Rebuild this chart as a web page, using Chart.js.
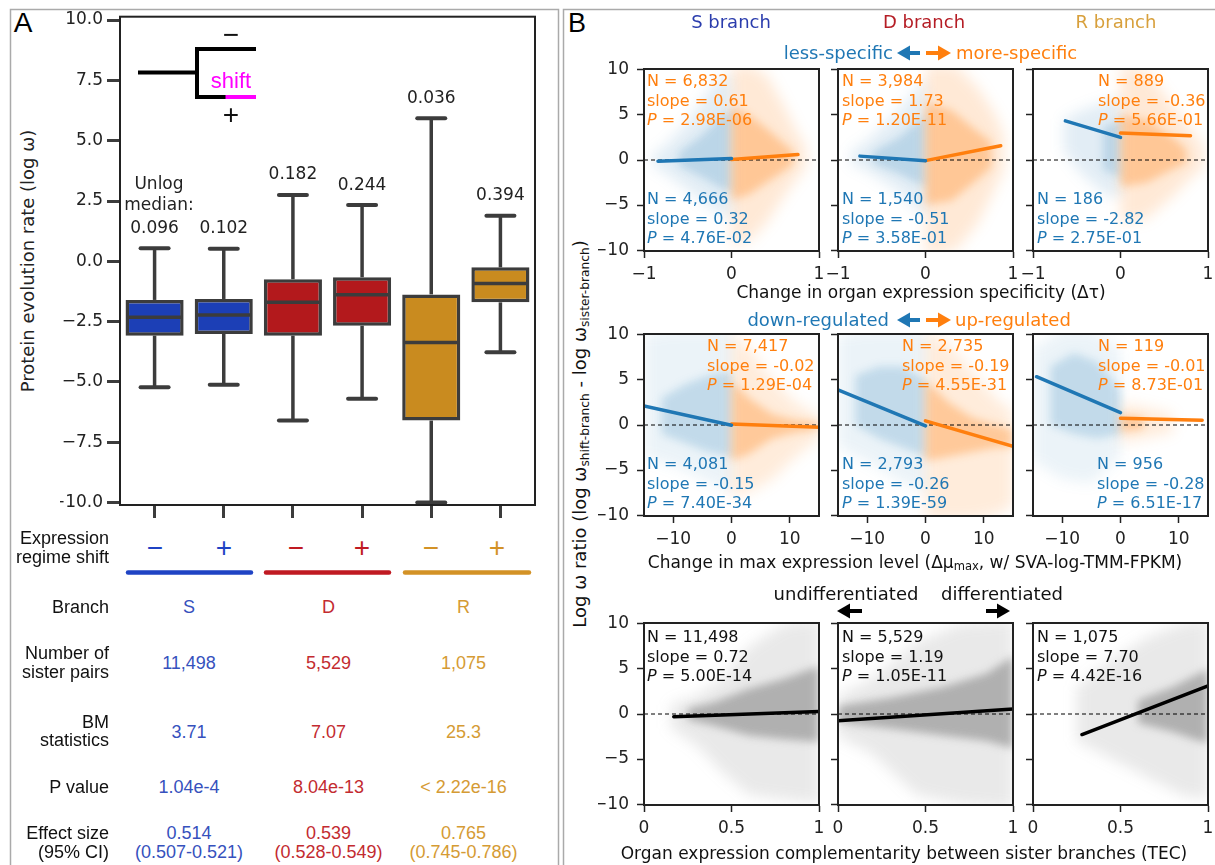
<!DOCTYPE html>
<html>
<head>
<meta charset="utf-8">
<script src="https://cdn.jsdelivr.net/npm/chart.js@4.4.1/dist/chart.umd.min.js"></script>
<style>
  html, body { margin: 0; padding: 0; background: #fff; }
  #stage { position: relative; width: 1215px; height: 865px; overflow: hidden; font-family: 'DejaVu Sans', sans-serif; color: #111; }
  #stage canvas { position: absolute; }
  .t { position: absolute; white-space: nowrap; line-height: 1; }
  .t sub { font-size: 0.68em; vertical-align: -0.25em; line-height: 0; }
  #stage svg { position: absolute; left: 0; top: 0; }
</style>
</head>
<body>
<div id="stage"></div>
<script>
// ---------- Panel A: box plot + table ----------
const groups = ['S−', 'S+', 'D−', 'D+', 'R−', 'R+'];
const whiskerLow = [-5.22, -5.12, -6.6, -5.7, -10.0, -3.77];
const quartile1 = [-3.08, -3.01, -3.08, -2.67, -6.6, -1.7];
const medians = [-2.32, -2.22, -1.7, -1.39, -3.36, -0.92];
const quartile3 = [-1.6, -1.56, -0.74, -0.66, -1.37, -0.25];
const whiskerHigh = [0.54, 0.52, 2.75, 2.33, 5.93, 1.89];
const unlogMedians = ['0.096', '0.102', '0.182', '0.244', '0.036', '0.394'];
const omegaTicks = [-10, -7.5, -5, -2.5, 0, 2.5, 5, 7.5, 10];

const branches = ['S', 'D', 'R'];
const sisterPairs = ['11,498', '5,529', '1,075'];
const bmStatistics = ['3.71', '7.07', '25.3'];
const pValues = ['1.04e-4', '8.04e-13', '< 2.22e-16'];
const effectSizes = ['0.514', '0.539', '0.765'];
const effectCIs = ['(0.507-0.521)', '(0.528-0.549)', '(0.745-0.786)'];

// ---------- Panel B: scatter grid ----------
const branchTitles = ['S branch', 'D branch', 'R branch'];
const tauTicks = [-1, 0, 1];
const muTicks = [-10, 0, 10];
const tecTicks = [0, 0.5, 1];
const ratioTicks = [-10, -5, 0, 5, 10];

// stats: [N, slope, P]
const tauLessStats = [['4,666', '0.32', '4.76E-02'], ['1,540', '-0.51', '3.58E-01'], ['186', '-2.82', '2.75E-01']];
const tauMoreStats = [['6,832', '0.61', '2.98E-06'], ['3,984', '1.73', '1.20E-11'], ['889', '-0.36', '5.66E-01']];
const muDownStats = [['4,081', '-0.15', '7.40E-34'], ['2,793', '-0.26', '1.39E-59'], ['956', '-0.28', '6.51E-17']];
const muUpStats = [['7,417', '-0.02', '1.29E-04'], ['2,735', '-0.19', '4.55E-31'], ['119', '-0.01', '8.73E-01']];
const tecStats = [['11,498', '0.72', '5.00E-14'], ['5,529', '1.19', '1.05E-11'], ['1,075', '7.70', '4.42E-16']];

// regression segments: [x1, y1, x2, y2]
const tauLessFit = [[-0.84, -0.13, 0, 0.17], [-0.75, 0.43, 0, -0.07], [-0.63, 4.34, 0, 2.51]];
const tauMoreFit = [[0, 0.05, 0.76, 0.6], [0, -0.07, 0.86, 1.58], [0, 3.0, 0.8, 2.7]];
const muDownFit = [[-15, 2.1, 0, -0.02], [-15, 3.9, 0, -0.1], [-14.4, 5.36, 0, 1.38]];
const muUpFit = [[0, 0.1, 15, -0.25], [0, 0.46, 15, -2.38], [0, 0.75, 14, 0.53]];
const tecFit = [[0.17, -0.3, 1, 0.29], [0, -0.74, 1, 0.55], [0.28, -2.28, 1, 3.12]];

// point clouds read as envelopes: [x, low, high] (outer spread, dense core)
const tauLessCloud = [
  { outer: [[-0.9, -0.6, 0.6], [-0.75, -1.5, 1.6], [-0.5, -3.3, 4.2], [-0.2, -5.5, 8.5], [0, -6.6, 9.6]],
    inner: [[-0.6, -0.6, 0.8], [-0.35, -1.8, 2.6], [-0.1, -3.2, 5], [0, -3.5, 5.5]] },
  { outer: [[-0.85, -0.5, 1], [-0.7, -1, 1.8], [-0.3, -3.5, 5.5], [-0.05, -6, 8.5], [0, -6.5, 9]],
    inner: [[-0.6, -0.4, 0.9], [-0.3, -1.5, 2.5], [0, -3, 5]] },
  { outer: [[-0.65, 1, 4.5], [-0.45, -1.5, 5.5], [-0.15, -4, 6.5], [0, -4, 7]],
    inner: [[-0.2, -1, 3.5], [0, -2, 4.5]] }
];
const tauMoreCloud = [
  { outer: [[0, -9.5, 10.5], [0.2, -9, 10.5], [0.4, -7, 9.5], [0.6, -4, 6], [0.75, -2, 3], [0.85, -0.8, 1.5]],
    inner: [[0, -4.5, 6], [0.2, -3.8, 5], [0.4, -2.5, 3.5], [0.6, -1.2, 1.8], [0.7, -0.5, 1]] },
  { outer: [[0, -10.5, 10.5], [0.35, -10, 10.5], [0.6, -7, 8], [0.8, -3, 5], [0.9, -1, 2.5]],
    inner: [[0, -5, 6.5], [0.3, -4.5, 5.5], [0.55, -2.5, 3.5], [0.75, -0.8, 2]] },
  { outer: [[0, -7, 10.5], [0.3, -6.5, 10], [0.6, -4, 6], [0.8, -2, 3.5], [0.95, -0.8, 1.5]],
    inner: [[0, -3, 5], [0.3, -2.5, 4.5], [0.6, -1, 2.5], [0.75, -0.3, 1.2]] }
];
const muDownCloud = [
  { outer: [[-15, -3.5, 10], [-10, -4.5, 10.5], [-5, -6, 10.5], [0, -7.5, 10.5]],
    inner: [[-12, -1, 3], [-8, -2, 4.5], [-4, -3, 5.5], [0, -3.5, 6]] },
  { outer: [[-15, -2.5, 10], [-10, -4, 10.5], [-5, -6, 10.5], [0, -7.5, 10.5]],
    inner: [[-12, 0, 5.5], [-8, -1.5, 6.5], [-4, -2.5, 6.5], [0, -3.5, 5]] },
  { outer: [[-15, -4, 8.5], [-10, -6, 10.5], [-5, -6.5, 10.5], [0, -3.5, 8.5]],
    inner: [[-12, 0, 6.5], [-8, -1, 8], [-4, -1.5, 7], [0, -1, 4]] }
];
const muUpCloud = [
  { outer: [[0, -8, 10.5], [3, -7.5, 8.5], [7, -6, 5], [11, -3.5, 2.5], [15, -1.5, 1]],
    inner: [[0, -4, 5], [3, -3.2, 3], [7, -1.5, 1.2], [11, -0.8, 0.5], [15, -0.5, 0.3]] },
  { outer: [[0, -10.5, 10.5], [4, -10.5, 9], [8, -10.5, 6], [12, -10, 3], [15, -9, 1.5]],
    inner: [[0, -4, 5], [4, -3.5, 2.5], [8, -3, 0.8], [12, -2.5, 0], [15, -2.5, -0.5]] },
  { outer: [[0, -2, 2.5], [4, -1.5, 2], [9, -0.8, 1.2]],
    inner: [[0, -0.8, 1.2], [4, -0.4, 0.8]] }
];
const tecCloud = [
  { outer: [[0.15, -1.5, 1], [0.3, -3.5, 2], [0.45, -6.5, 4], [0.6, -9, 7.5], [0.8, -9.5, 10], [1, -10, 10.5]],
    inner: [[0.25, -0.6, 0.6], [0.4, -1.3, 1.3], [0.6, -2.4, 2.8], [0.8, -2.8, 3.9], [1, -3.1, 5.3]] },
  { outer: [[0, -2.5, 2], [0.2, -4.5, 4], [0.45, -9, 8], [0.7, -10, 10], [1, -10.5, 10.5]],
    inner: [[0, -0.9, 0.9], [0.3, -1.6, 1.8], [0.6, -2.4, 3], [0.85, -3, 4.5], [1, -3.8, 6.4]] },
  { outer: [[0.25, -3, 3], [0.45, -5, 6], [0.65, -7, 8.5], [0.85, -9, 10], [1, -9.5, 10.5]],
    inner: [[0.6, -1, 1.5], [0.8, -2, 3], [0.95, -3, 4.5], [1, -3.2, 5]] }
];

// ---------- styles ----------
const EDGE = '#3c3c3c';
const boxFill = ['#1c3fb6', '#1c3fb6', '#b3191c', '#b3191c', '#c98b1f', '#c98b1f'];
const signColors = ['#1f43c4', '#c01a22', '#d39226'];
const tableColors = ['#3651bd', '#c32b30', '#d59b34'];
const titleColors = ['#2b3dad', '#b51d25', '#d8a03c'];
const BLUE = '#1f77b4', ORANGE = '#ff7f0e';

Chart.defaults.font.family = "'DejaVu Sans', sans-serif";
const stage = document.getElementById('stage');
const minus = v => String(v).replace('-', '−');

function addCanvas(left, top, w, h) {
  const c = document.createElement('canvas');
  c.width = w; c.height = h;
  c.style.left = left + 'px'; c.style.top = top + 'px';
  stage.appendChild(c);
  return c;
}

function text(html, x, y, o = {}) {
  const d = document.createElement('div');
  d.className = 't';
  d.innerHTML = html;
  const s = d.style;
  s.left = x + 'px'; s.top = y + 'px';
  s.fontSize = (o.size || 16) + 'px';
  s.fontFamily = o.font || "'DejaVu Sans'";
  s.color = o.color || '#111';
  const ax = o.align === 'right' ? '-100%' : o.align === 'left' ? '0' : '-50%';
  s.transform = `translate(${ax}, -50%)` + (o.rotate ? ` rotate(${o.rotate}deg)` : '');
  stage.appendChild(d);
}

const framePlugin = {
  id: 'frame',
  afterDraw(chart) {
    const { ctx, chartArea: a } = chart;
    ctx.save();
    ctx.strokeStyle = '#222';
    ctx.lineWidth = 2;
    ctx.strokeRect(a.left, a.top, a.right - a.left, a.bottom - a.top);
    ctx.restore();
  }
};

// ---------- box plot ----------
const boxPlugin = {
  id: 'whiskers',
  beforeDatasetsDraw(chart) {
    const { ctx, scales: { x, y } } = chart;
    ctx.save();
    ctx.strokeStyle = EDGE;
    groups.forEach((g, i) => {
      const cx = x.getPixelForValue(i);
      [[whiskerLow[i], quartile1[i]], [whiskerHigh[i], quartile3[i]]].forEach(([end, edge]) => {
        const ye = y.getPixelForValue(end);
        ctx.lineWidth = 3.5;
        ctx.lineCap = 'butt';
        ctx.beginPath(); ctx.moveTo(cx, ye); ctx.lineTo(cx, y.getPixelForValue(edge)); ctx.stroke();
        ctx.lineCap = 'round';
        ctx.lineWidth = 4;
        ctx.beginPath(); ctx.moveTo(cx - 14, ye); ctx.lineTo(cx + 14, ye); ctx.stroke();
      });
    });
    ctx.restore();
  },
  afterDatasetsDraw(chart) {
    const { ctx, scales: { x, y } } = chart;
    const bars = chart.getDatasetMeta(0).data;
    ctx.save();
    ctx.strokeStyle = EDGE;
    ctx.lineWidth = 3.5;
    bars.forEach((b, i) => {
      const ym = y.getPixelForValue(medians[i]);
      ctx.beginPath(); ctx.moveTo(b.x - b.width / 2 + 1, ym); ctx.lineTo(b.x + b.width / 2 - 1, ym); ctx.stroke();
    });
    ctx.fillStyle = '#222';
    ctx.font = "17px 'DejaVu Sans'";
    ctx.textAlign = 'center';
    ctx.textBaseline = 'middle';
    groups.forEach((g, i) => {
      ctx.fillText(unlogMedians[i], x.getPixelForValue(i), y.getPixelForValue(whiskerHigh[i]) - 20);
    });
    ctx.restore();
  }
};

new Chart(addCanvas(60, -3, 485, 533), {
  type: 'bar',
  data: {
    labels: groups,
    datasets: [{
      data: groups.map((g, i) => [quartile1[i], quartile3[i]]),
      backgroundColor: boxFill,
      borderColor: EDGE,
      borderWidth: 3.5,
      borderSkipped: false,
      barPercentage: 0.84,
      categoryPercentage: 1
    }]
  },
  options: {
    responsive: false,
    animation: false,
    devicePixelRatio: 1,
    layout: { padding: { top: 19.7, right: 10 } },
    plugins: { legend: { display: false }, tooltip: { enabled: false } },
    scales: {
      x: {
        grid: { offset: false, drawOnChartArea: false, tickLength: 13, tickWidth: 3, tickColor: EDGE },
        border: { color: '#222', width: 2 },
        ticks: { display: false },
        afterFit: s => { s.height = 25; }
      },
      y: {
        min: -10.1, max: 10.14,
        afterBuildTicks: ax => { ax.ticks = omegaTicks.map(v => ({ value: v })); },
        grid: { drawOnChartArea: false, tickLength: 13, tickWidth: 3, tickColor: EDGE },
        border: { color: '#222', width: 2 },
        ticks: { color: '#222', font: { size: 17 }, padding: 4, autoSkip: false, callback: v => minus(v.toFixed(1)) },
        afterFit: s => { s.width = 60; }
      }
    }
  },
  plugins: [boxPlugin, framePlugin]
});

// ---------- scatter subplots ----------
function cloudPlugin(layers) {
  return {
    id: 'cloud',
    beforeDatasetsDraw(chart) {
      const { ctx, chartArea: a, scales: { x, y } } = chart;
      ctx.save();
      ctx.beginPath(); ctx.rect(a.left, a.top, a.right - a.left, a.bottom - a.top); ctx.clip();
      layers.forEach(l => {
        ctx.filter = `blur(${l.blur}px)`;
        ctx.fillStyle = l.color;
        ctx.beginPath();
        l.pts.forEach(([px, lo, hi], i) => {
          const X = x.getPixelForValue(px), Y = y.getPixelForValue(hi);
          if (i) ctx.lineTo(X, Y); else ctx.moveTo(X, Y);
        });
        l.pts.slice().reverse().forEach(([px, lo]) => ctx.lineTo(x.getPixelForValue(px), y.getPixelForValue(lo)));
        ctx.closePath();
        ctx.fill();
      });
      ctx.restore();
    }
  };
}

const colLeft = [644, 838, 1033];
const rowTop = [69, 334, 623];
const plotW = 175, plotH = 182;

function scatterPanel(row, col, xr, xTicks, parts) {
  const padL = 46, padT = 22, padR = 24, padB = 40;
  const cv = addCanvas(colLeft[col] - padL, rowTop[row] - padT, plotW + padL + padR, plotH + padT + padB);
  const layers = [];
  parts.forEach(p => {
    const c = p.cloud[col];
    layers.push({ pts: c.outer, color: `rgba(${p.rgb},${p.alpha[0]})`, blur: 7 });
    layers.push({ pts: c.inner, color: `rgba(${p.rgb},${p.alpha[1]})`, blur: 4 });
  });
  const datasets = parts.map(p => {
    const f = p.fit[col];
    return {
      data: [{ x: f[0], y: f[1] }, { x: f[2], y: f[3] }],
      showLine: true, pointRadius: 0, borderColor: p.color, borderWidth: 3.5,
      borderCapStyle: 'round', order: 0
    };
  });
  datasets.push({
    data: [{ x: xr[0], y: 0 }, { x: xr[1], y: 0 }],
    showLine: true, pointRadius: 0, borderColor: '#000', borderWidth: 1,
    borderDash: [4, 3], order: 1
  });
  new Chart(cv, {
    type: 'scatter',
    data: { datasets },
    options: {
      responsive: false,
      animation: false,
      devicePixelRatio: 1,
      layout: { padding: { top: padT, right: padR } },
      plugins: { legend: { display: false }, tooltip: { enabled: false } },
      scales: {
        x: {
          type: 'linear', min: xr[0], max: xr[1],
          afterBuildTicks: ax => { ax.ticks = xTicks.map(v => ({ value: v })); },
          grid: { drawOnChartArea: false, tickLength: 7, tickWidth: 1.5, tickColor: '#222' },
          border: { color: '#222', width: 2 },
          ticks: { color: '#222', font: { size: 17 }, padding: 6, autoSkip: false, maxRotation: 0, callback: v => minus(v) },
          afterFit: s => { s.height = padB; }
        },
        y: {
          min: -10.1, max: 10.1,
          afterBuildTicks: ax => { ax.ticks = ratioTicks.map(v => ({ value: v })); },
          grid: { drawOnChartArea: false, tickLength: 7, tickWidth: 1.5, tickColor: '#222' },
          border: { color: '#222', width: 2 },
          ticks: { display: col === 0, color: '#222', font: { size: 17 }, padding: 8, autoSkip: false, callback: v => minus(v) },
          afterFit: s => { s.width = padL; }
        }
      }
    },
    plugins: [cloudPlugin(layers), framePlugin]
  });
}

function statsBlock(stats, x, y, color) {
  const [n, slope, p] = stats;
  text(`N = ${n}`, x, y, { align: 'left', color });
  text(`slope = ${slope}`, x, y + 19.5, { align: 'left', color });
  text(`<i>P</i> = ${p}`, x, y + 39, { align: 'left', color });
}

const rows = [
  { xr: [-1, 1], ticks: tauTicks, parts: [
    { cloud: tauLessCloud, fit: tauLessFit, stats: tauLessStats, color: BLUE, rgb: '31,119,180', alpha: [0.13, 0.2], pos: [[647, 199], [842, 199], [1037, 199]] },
    { cloud: tauMoreCloud, fit: tauMoreFit, stats: tauMoreStats, color: ORANGE, rgb: '255,127,14', alpha: [0.17, 0.32], pos: [[647, 81], [842, 81], [1098, 81]] }
  ] },
  { xr: [-15, 15], ticks: muTicks, parts: [
    { cloud: muDownCloud, fit: muDownFit, stats: muDownStats, color: BLUE, rgb: '31,119,180', alpha: [0.09, 0.2], pos: [[647, 464], [842, 464], [1097, 464]] },
    { cloud: muUpCloud, fit: muUpFit, stats: muUpStats, color: ORANGE, rgb: '255,127,14', alpha: [0.15, 0.32], pos: [[707, 346], [902, 346], [1098, 346]] }
  ] },
  { xr: [0, 1], ticks: tecTicks, parts: [
    { cloud: tecCloud, fit: tecFit, stats: tecStats, color: '#000', rgb: '120,120,120', alpha: [0.16, 0.5], pos: [[647, 637], [842, 637], [1037, 637]] }
  ] }
];

rows.forEach((r, ri) => {
  for (let c = 0; c < 3; c++) {
    scatterPanel(ri, c, r.xr, r.ticks, r.parts);
    r.parts.forEach(p => statsBlock(p.stats[c], p.pos[c][0], p.pos[c][1], p.color === '#000' ? '#111' : p.color));
  }
});

// ---------- panel A text ----------
text('A', 23, 23, { size: 28, font: "'Liberation Sans'", color: '#000' });
text('Protein evolution rate (log ω)', 28, 261, { size: 18, rotate: -90, color: '#222' });
text('Unlog', 159, 183, { size: 17, color: '#222' });
text('median:', 159, 204, { size: 17, color: '#222' });
text('shift', 231, 81, { size: 22, font: "'Liberation Sans'", color: '#ff00ff' });
text('−', 231, 35, { size: 28, font: "'Liberation Sans'", color: '#111' });
text('+', 231, 115, { size: 28, font: "'Liberation Sans'", color: '#111' });

const AF = "'Liberation Sans'";
const labelX = 109;
text('Expression', labelX, 538, { size: 18, font: AF, align: 'right' });
text('regime shift', labelX, 557, { size: 18, font: AF, align: 'right' });
text('Branch', labelX, 607, { size: 18, font: AF, align: 'right' });
text('Number of', labelX, 653, { size: 18, font: AF, align: 'right' });
text('sister pairs', labelX, 672, { size: 18, font: AF, align: 'right' });
text('BM', labelX, 722, { size: 18, font: AF, align: 'right' });
text('statistics', labelX, 740, { size: 18, font: AF, align: 'right' });
text('P value', labelX, 787, { size: 18, font: AF, align: 'right' });
text('Effect size', labelX, 833, { size: 18, font: AF, align: 'right' });
text('(95% CI)', labelX, 852, { size: 18, font: AF, align: 'right' });

const signX = [155, 224, 296, 362, 431, 497];
signX.forEach((x, i) => text(i % 2 ? '+' : '−', x, 548, { size: 28, font: AF, color: signColors[Math.floor(i / 2)] }));
const tableX = [189, 328.5, 463.5];
branches.forEach((b, i) => {
  const o = { size: 18, font: AF, color: tableColors[i] };
  text(b, tableX[i], 607, o);
  text(sisterPairs[i], tableX[i], 663, o);
  text(bmStatistics[i], tableX[i], 732, o);
  text(pValues[i], tableX[i], 787, o);
  text(effectSizes[i], tableX[i], 833, o);
  text(effectCIs[i], tableX[i], 852, o);
});

// ---------- panel B text ----------
text('B', 577, 23, { size: 27, font: AF, color: '#000' });
branchTitles.forEach((t, i) => text(t, [731, 924, 1116][i], 22, { size: 18, color: titleColors[i] }));
text('less-specific', 893, 53, { size: 18, color: BLUE, align: 'right' });
text('more-specific', 956, 53, { size: 18, color: ORANGE, align: 'left' });
text('down-regulated', 889, 320, { size: 18, color: BLUE, align: 'right' });
text('up-regulated', 955, 320, { size: 18, color: ORANGE, align: 'left' });
text('undifferentiated', 846, 594, { size: 18, color: '#111' });
text('differentiated', 1002, 594, { size: 18, color: '#111' });
text('Change in organ expression specificity (Δτ)', 921, 292, { size: 17, color: '#111' });
text('Change in max expression level (Δμ<sub>max</sub>, w/ SVA-log-TMM-FPKM)', 915, 562, { size: 17, color: '#111' });
text('Organ expression complementarity between sister branches (TEC)', 904, 853, { size: 17, color: '#111' });
text('Log ω ratio (log ω<sub>shift-branch</sub> - log ω<sub>sister-branch</sub>)', 580, 434, { size: 18, rotate: -90, color: '#111' });

// ---------- decorations (frames, tree, underlines, arrows) ----------
function arrow(x1, x2, y, color) {
  const dir = Math.sign(x2 - x1), base = x2 - dir * 13;
  return `<line x1="${x1}" y1="${y}" x2="${base}" y2="${y}" stroke="${color}" stroke-width="4"/>` +
    `<polygon points="${x2},${y} ${base},${y - 7.5} ${base},${y + 7.5}" fill="${color}"/>`;
}
const svg = `<svg width="1215" height="865" xmlns="http://www.w3.org/2000/svg">
  <rect x="10.5" y="9.5" width="548" height="870" fill="none" stroke="#aaa" stroke-width="1.5"/>
  <rect x="563.5" y="9.5" width="660" height="870" fill="none" stroke="#aaa" stroke-width="1.5"/>
  <g stroke="#000" stroke-width="4" fill="none">
    <line x1="138" y1="72.5" x2="197" y2="72.5"/>
    <polyline points="256,49 197,49 197,97 226,97"/>
  </g>
  <line x1="225.5" y1="97" x2="256" y2="97" stroke="#ff00ff" stroke-width="4"/>
  <g stroke-width="4.5" stroke-linecap="round">
    <line x1="128" y1="572.5" x2="251" y2="572.5" stroke="${signColors[0]}"/>
    <line x1="266" y1="572.5" x2="389" y2="572.5" stroke="${signColors[1]}"/>
    <line x1="405" y1="572.5" x2="529" y2="572.5" stroke="${signColors[2]}"/>
  </g>
  ${arrow(920, 897, 53, BLUE)}${arrow(926, 951, 53, ORANGE)}
  ${arrow(920, 897, 320, BLUE)}${arrow(926, 951, 320, ORANGE)}
  ${arrow(862, 837, 611, '#000')}${arrow(986, 1010, 611, '#000')}
</svg>`;
stage.insertAdjacentHTML('beforeend', svg);
</script>
</body>
</html>
